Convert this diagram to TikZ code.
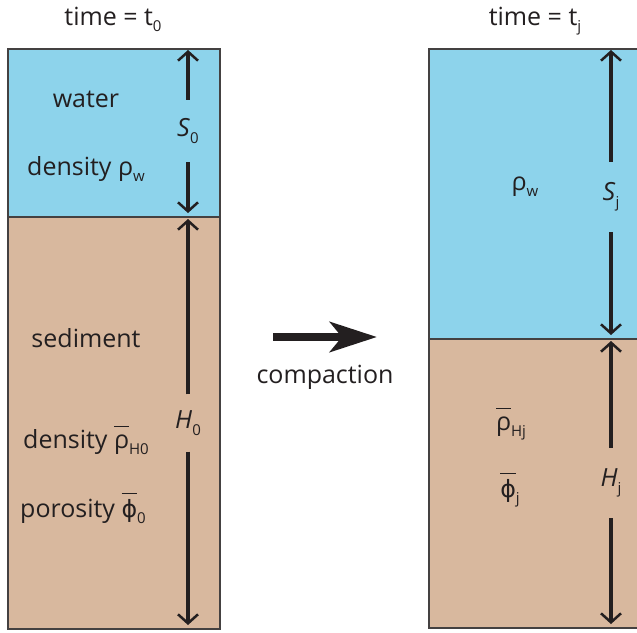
\documentclass[tikz,border=0pt]{standalone}
\usepackage{fontspec}
\setmainfont{Open Sans}
\newfontfamily\phifont[Scale=0.95]{DejaVu Sans}
\usetikzlibrary{arrows.meta}

\definecolor{waterblue}{RGB}{141,211,235}
\definecolor{sedtan}{RGB}{216,184,158}
\definecolor{inkgray}{RGB}{35,31,32}

% small lowered subscript, overbar and porosity symbol
\newcommand{\sub}[1]{\raisebox{-0.5ex}{\fontsize{15}{15}\selectfont #1}}
\newcommand{\barred}[1]{\setbox0\hbox{#1}%
  \dimen0=\dimexpr\ht0+5pt\relax
  \ifdim\dimen0<0.84em \dimen0=0.84em\fi
  \rlap{\rule[\dimen0]{\wd0}{1.4pt}}\box0}
\newcommand{\poro}{{\phifont ϕ}}

\begin{document}
\begin{tikzpicture}[x=1pt, y=-1pt,
    every node/.style={font=\fontsize{25}{29}\selectfont, text=inkgray},
    layer/.style={draw=inkgray!85, line width=1.5pt, anchor=north west, inner sep=0pt},
    txt/.style={anchor=base},
    dimlabel/.style={inner sep=0pt, minimum height=#1},
    dim/.style={draw=inkgray, line width=4pt, -{Straight Barb[length=9pt, width=20pt, line width=2.5pt]}},
    bigarrow/.style={draw=inkgray, line width=8pt, -{Stealth[length=47pt, width=30pt, inset=12pt]}}
]
\useasboundingbox (0,0) rectangle (637,632);
\clip (0,0) rectangle (637,632);

% Column at time t_0
\node[layer, fill=waterblue, minimum width=212pt, minimum height=168pt] (water0) at (7,48) {};
\node[layer, fill=sedtan, minimum width=212pt, minimum height=412pt] (sed0) at (7,216) {};
\node[txt] (time0) at (113,25) {time = t\sub{0}};
\node[txt] (waterlab) at (86,107) {water};
\node[txt] (rhow0) at (86,175) {density ρ\sub{w}};
\node[txt] (sedlab) at (86,347) {sediment};
\node[txt] (rhoH0) at (86,448) {density \barred{ρ}\sub{H0}};
\node[txt] (phi0) at (83,517) {porosity \barred{\poro}\sub{0}};

% Column at time t_j
\node[layer, fill=waterblue, minimum width=230pt, minimum height=290pt] (waterj) at (428,48) {};
\node[layer, fill=sedtan, minimum width=230pt, minimum height=289pt] (sedj) at (428,338) {};
\node[txt] (timej) at (535,25) {time = t\sub{j}};
\node[txt] (rhowj) at (525,190) {ρ\sub{w}};
\node[txt] (rhoHj) at (511,430) {\barred{ρ}\sub{Hj}};
\node[txt] (phij) at (510,497) {\barred{\poro}\sub{j}};

% Thickness labels
\node[dimlabel=62pt] (S0) at (188,131) {\textit{S}\sub{0}};
\node[dimlabel=57pt] (H0) at (188,423) {\textit{H}\sub{0}};
\node[dimlabel=70pt] (Sj) at (611,197) {\textit{S}\sub{j}};
\node[dimlabel=70pt] (Hj) at (611,483) {\textit{H}\sub{j}};

\coordinate (S0top) at (188,50);
\coordinate (S0bot) at (188,213);
\coordinate (H0top) at (188,219);
\coordinate (H0bot) at (188,625);
\coordinate (Sjtop) at (611,50);
\coordinate (Sjbot) at (611,335);
\coordinate (Hjtop) at (611,341);
\coordinate (Hjbot) at (611,624);

\draw[dim] (S0.north) -- (S0top);
\draw[dim] (S0.south) -- (S0bot);
\draw[dim] (H0.north) -- (H0top);
\draw[dim] (H0.south) -- (H0bot);
\draw[dim] (Sj.north) -- (Sjtop);
\draw[dim] (Sj.south) -- (Sjbot);
\draw[dim] (Hj.north) -- (Hjtop);
\draw[dim] (Hj.south) -- (Hjbot);

% Compaction arrow
\coordinate (cstart) at (273,337);
\coordinate (cend) at (377,337);
\draw[bigarrow] (cstart) -- (cend);
\node[txt] (complab) at (325,383) {compaction};
\end{tikzpicture}
\end{document}
